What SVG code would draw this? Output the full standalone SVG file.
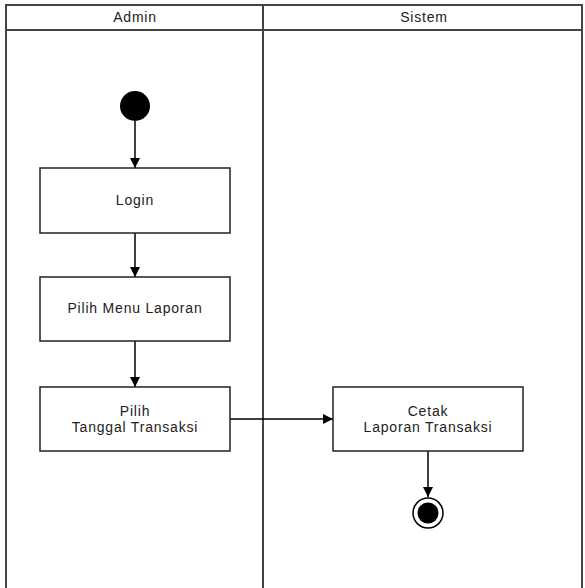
<svg xmlns="http://www.w3.org/2000/svg" width="585" height="588" viewBox="0 0 585 588">
<defs>
<marker id="arr" viewBox="0 0 10 10" refX="10" refY="5" markerWidth="10" markerHeight="10" markerUnits="userSpaceOnUse" orient="auto">
<path d="M0,0 L10,5 L0,10 Z" fill="#000"/>
</marker>
</defs>
<style>
.lane{fill:none;stroke:#444;stroke-width:2}
.box{fill:#fff;stroke:#222;stroke-width:1.5}
.t{font-family:"Liberation Sans",Arial,sans-serif;font-size:14px;letter-spacing:0.8px;fill:#222;text-anchor:middle}
.c{fill:none;stroke:#000;stroke-width:1.5}
</style>
<rect width="585" height="588" fill="#fff"/>
<g id="lanes">
<path class="lane" d="M6,592 L6,5 L582,5 L582,592"/>
<line class="lane" x1="6" y1="30" x2="582" y2="30"/>
<line class="lane" x1="263" y1="5" x2="263" y2="592"/>
<text class="t" x="135" y="22">Admin</text>
<text class="t" x="424" y="22">Sistem</text>
</g>
<g id="connectors">
<line class="c" x1="135" y1="121" x2="135" y2="168" marker-end="url(#arr)"/>
<line class="c" x1="135" y1="233" x2="135" y2="277" marker-end="url(#arr)"/>
<line class="c" x1="135" y1="341" x2="135" y2="387" marker-end="url(#arr)"/>
<line class="c" x1="230" y1="419" x2="333" y2="419" marker-end="url(#arr)"/>
<line class="c" x1="428" y1="451" x2="428" y2="497" marker-end="url(#arr)"/>
</g>
<g id="start">
<circle cx="135" cy="106" r="15" fill="#000"/>
</g>
<g id="login">
<rect class="box" x="40" y="168" width="190" height="65"/>
<text class="t" x="135" y="205">Login</text>
</g>
<g id="menu">
<rect class="box" x="40" y="277" width="190" height="64"/>
<text class="t" x="135" y="313">Pilih Menu Laporan</text>
</g>
<g id="tanggal">
<rect class="box" x="40" y="387" width="190" height="64"/>
<text class="t" x="135" y="416">Pilih</text>
<text class="t" x="135" y="432">Tanggal Transaksi</text>
</g>
<g id="cetak">
<rect class="box" x="333" y="387" width="190" height="64"/>
<text class="t" x="428" y="416">Cetak</text>
<text class="t" x="428" y="432">Laporan Transaksi</text>
</g>
<g id="end">
<circle cx="428" cy="513" r="15" fill="#fff" stroke="#000" stroke-width="1.5"/>
<circle cx="428" cy="513" r="10.5" fill="#000"/>
</g>
</svg>
